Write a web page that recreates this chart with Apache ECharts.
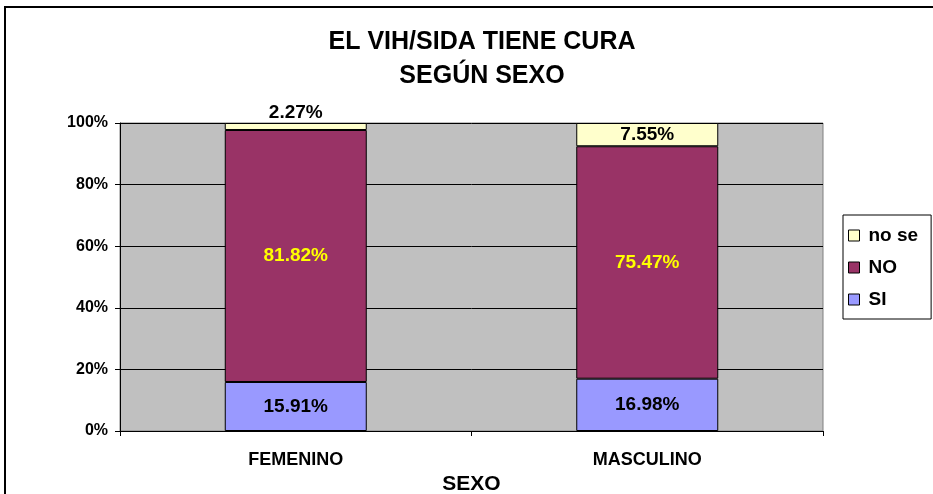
<!DOCTYPE html>
<html>
<head>
<meta charset="utf-8">
<script src="https://cdn.jsdelivr.net/npm/echarts@6/dist/echarts.min.js"></script>
<style>
  html, body { margin: 0; padding: 0; background: #fff; }
  #chart { width: 933px; height: 494px; }
</style>
</head>
<body>
<div id="chart"></div>
<script>
// ---- data ----
const categories = ['FEMENINO', 'MASCULINO'];
const siValues = [15.91, 16.98];
const noValues = [81.82, 75.47];
const noSeValues = [2.27, 7.55];
const yTicks = [0, 20, 40, 60, 80, 100];

const FONT = '"Liberation Sans", Arial, sans-serif';

const chart = echarts.init(document.getElementById('chart'));

const pctLabel = (p) => p.value.toFixed(2) + '%';

chart.setOption({
  backgroundColor: '#ffffff',
  animation: false,
  textStyle: { fontFamily: FONT },
  title: {
    text: 'EL VIH/SIDA TIENE CURA\nSEGÚN SEXO',
    left: 477,
    top: 20,
    textAlign: 'center',
    textStyle: { fontFamily: FONT, fontSize: 25, fontWeight: 'bold', color: '#000', lineHeight: 34 },
  },
  graphic: [{
    type: 'rect',
    shape: { x: 5, y: 7, width: 940, height: 500 },
    style: { fill: 'none', stroke: '#000', lineWidth: 2 },
    silent: true,
  }],
  legend: {
    orient: 'vertical',
    left: 843,
    top: 215,
    data: ['no se', 'NO', 'SI'],
    icon: 'rect',
    itemWidth: 11,
    itemHeight: 11,
    itemGap: 13,
    padding: [11, 13, 10, 5],
    borderColor: '#000',
    borderWidth: 1,
    backgroundColor: '#fff',
    textStyle: { fontFamily: FONT, fontSize: 19, fontWeight: 'bold', color: '#000', padding: [0, 0, 0, 4] },
    itemStyle: { borderColor: '#000', borderWidth: 1 },
  },
  grid: {
    left: 120,
    right: 110,
    top: 123,
    bottom: 63,
    outerBoundsMode: 'none',
    containLabel: false,
    show: true,
    backgroundColor: '#C0C0C0',
    borderColor: '#808080',
    borderWidth: 1,
  },
  xAxis: {
    type: 'category',
    data: categories,
    name: 'SEXO',
    nameLocation: 'middle',
    nameGap: 37,
    nameTextStyle: { fontFamily: FONT, fontSize: 21, fontWeight: 'bold', color: '#000' },
    axisLine: { lineStyle: { color: '#000', width: 1 } },
    axisTick: { show: true, length: 5, lineStyle: { color: '#000' } },
    axisLabel: { fontFamily: FONT, fontSize: 18, fontWeight: 'bold', color: '#000', margin: 20 },
  },
  yAxis: {
    type: 'value',
    min: yTicks[0],
    max: yTicks[yTicks.length - 1],
    interval: yTicks[1] - yTicks[0],
    axisLine: { show: true, lineStyle: { color: '#000', width: 1 } },
    axisTick: { show: true, length: 5, lineStyle: { color: '#000' } },
    axisLabel: { formatter: '{value}%', fontFamily: FONT, fontSize: 16, fontWeight: 'bold', color: '#000', margin: 12 },
    splitLine: { show: true, lineStyle: { color: '#000', width: 1 } },
  },
  series: [
    {
      name: 'SI',
      type: 'bar',
      stack: 'total',
      barWidth: 142,
      data: siValues,
      itemStyle: { color: '#9999FF', borderColor: '#000', borderWidth: 1 },
      label: { show: true, position: 'inside', formatter: pctLabel, fontFamily: FONT, fontSize: 19, fontWeight: 'bold', color: '#000' },
    },
    {
      name: 'NO',
      type: 'bar',
      stack: 'total',
      data: noValues,
      itemStyle: { color: '#993366', borderColor: '#000', borderWidth: 1 },
      label: { show: true, position: 'inside', formatter: pctLabel, fontFamily: FONT, fontSize: 19, fontWeight: 'bold', color: '#FFFF00' },
    },
    {
      name: 'no se',
      type: 'bar',
      stack: 'total',
      data: noSeValues.map((v, i) => ({
        value: v,
        label: { position: i === 0 ? 'top' : 'inside', distance: 1 },
      })),
      itemStyle: { color: '#FFFFCC', borderColor: '#000', borderWidth: 1 },
      label: { show: true, formatter: pctLabel, fontFamily: FONT, fontSize: 19, fontWeight: 'bold', color: '#000' },
    },
  ],
});
</script>
</body>
</html>
